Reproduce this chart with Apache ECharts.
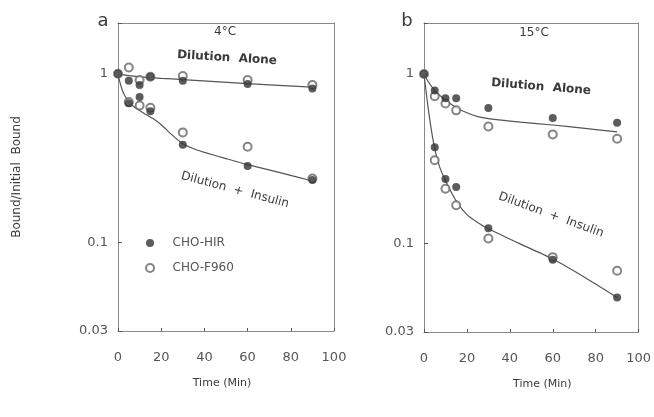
<!DOCTYPE html>
<html>
<head>
<meta charset="utf-8">
<script src="https://cdn.jsdelivr.net/npm/echarts@6/dist/echarts.min.js"></script>
<style>html,body{margin:0;padding:0;background:#fff}#c{width:654px;height:417px}</style>
</head>
<body>
<div id="c"></div>
<script>
// ---- data ----
const times = [0, 5, 10, 15, 30, 60, 90];
const xTicks = [0, 20, 40, 60, 80, 100];
const yTickLabels = ['0.03', '0.1', '1'];

// Panel a (4°C)
const aHirAlone    = [1.0, 0.91, 0.86, 0.96, 0.91, 0.87, 0.82];
const aHirInsulin  = [null, 0.67, 0.73, 0.60, 0.38, 0.285, 0.235];
const aF960Alone   = [1.0, 1.09, 0.92, 0.96, 0.97, 0.92, 0.86];
const aF960Insulin = [null, 0.68, 0.65, 0.63, 0.45, 0.37, 0.24];
const aFitAloneT   = [0, 5, 10, 20, 30, 60, 90];
const aFitAloneV   = [1.0, 0.975, 0.96, 0.94, 0.925, 0.875, 0.835];
const aFitInsT     = [0, 1, 2, 3, 5, 8, 12, 16, 20, 25, 30, 35, 40, 50, 60, 75, 90];
const aFitInsV     = [1.0, 0.88, 0.80, 0.75, 0.68, 0.63, 0.585, 0.545, 0.50, 0.435, 0.385, 0.36, 0.343, 0.315, 0.29, 0.26, 0.232];

// Panel b (15°C)
const bHirAlone    = [1.0, 0.80, 0.72, 0.72, 0.63, 0.55, 0.515];
const bHirInsulin  = [null, 0.37, 0.24, 0.215, 0.123, 0.080, 0.048];
const bF960Alone   = [1.0, 0.74, 0.67, 0.61, 0.49, 0.44, 0.415];
const bF960Insulin = [null, 0.31, 0.21, 0.168, 0.107, 0.083, 0.069];
const bFitAloneT   = [0, 2, 5, 10, 15, 20, 25, 30, 45, 60, 75, 90];
const bFitAloneV   = [1.0, 0.90, 0.80, 0.70, 0.635, 0.59, 0.56, 0.545, 0.52, 0.50, 0.478, 0.455];
const bFitInsT     = [0, 2, 4.5, 7, 10, 15, 20, 25, 30, 45, 60, 75, 90];
const bFitInsV     = [1.0, 0.62, 0.39, 0.29, 0.235, 0.178, 0.148, 0.133, 0.122, 0.099, 0.081, 0.063, 0.048];

// ---- helpers ----
const pairs = (t, v) => t.map((x, i) => [x, v[i]]).filter(p => p[1] != null);
const FONT = 'DejaVu Sans';
const frame = '#858b92';
const txt = '#3a3a3a';

function xAxisCfg(gi, pad) {
  return {
    type: 'value', gridIndex: gi, min: 0, max: 100, interval: 20, position: 'bottom',
    name: 'Time (Min)', nameLocation: 'middle', nameGap: 47,
    nameTextStyle: { fontFamily: FONT, fontSize: 11, color: txt, padding: pad },
    axisLine: { show: true, onZero: false, lineStyle: { color: frame } },
    axisTick: { show: true, inside: true, length: 3, lineStyle: { color: '#555' } },
    axisLabel: { fontFamily: FONT, fontSize: 13, color: '#555', margin: 20,
      formatter: v => xTicks.includes(v) ? String(v) : '' },
    splitLine: { show: false }
  };
}
function frameX(gi) {
  return { type: 'value', gridIndex: gi, min: 0, max: 100, position: 'top',
    axisLine: { show: true, onZero: false, lineStyle: { color: frame } },
    axisTick: { show: false }, axisLabel: { show: false }, splitLine: { show: false } };
}
function frameY(gi) {
  return { type: 'value', gridIndex: gi, min: 0, max: 1, position: 'right',
    axisLine: { show: true, onZero: false, lineStyle: { color: frame } },
    axisTick: { show: false }, axisLabel: { show: false }, splitLine: { show: false } };
}
function yAxisCfg(gi, withName) {
  return {
    type: 'log', logBase: 10, gridIndex: gi, min: 0.03, max: 2, position: 'left',
    name: withName ? 'Bound/Initial  Bound' : '', nameLocation: 'middle', nameGap: 95, nameRotate: 90,
    nameTextStyle: { fontFamily: FONT, fontSize: 12, color: txt },
    axisLine: { show: true, onZero: false, lineStyle: { color: frame } },
    axisTick: { show: true, inside: true, length: 4, lineStyle: { color: '#555' } },
    axisLabel: { fontFamily: FONT, fontSize: 13, color: '#555', margin: 10,
      formatter: v => { const s = String(+(+v).toPrecision(2)); return yTickLabels.includes(s) ? s : ''; } },
    splitLine: { show: false }
  };
}
function fit(name, xi, t, v) {
  return { type: 'line', name: name, xAxisIndex: xi, yAxisIndex: xi, data: pairs(t, v),
    showSymbol: false, smooth: 0.2, silent: true,
    lineStyle: { color: '#555', width: 1.2 }, z: 1 };
}
function filled(xi, v) {
  return { type: 'scatter', name: 'CHO-HIR', xAxisIndex: xi, yAxisIndex: xi, data: pairs(times, v),
    symbol: 'circle', symbolSize: 8, itemStyle: { color: '#333' }, z: 4 };
}
function open(xi, v) {
  return { type: 'scatter', name: 'CHO-F960', xAxisIndex: xi, yAxisIndex: xi, data: pairs(times, v),
    symbol: 'emptyCircle', symbolSize: 8, itemStyle: { color: '#666', borderWidth: 1 }, z: 3 };
}
function label(text, x, y, opt) {
  opt = opt || {};
  return { type: 'text', x: x, y: y, rotation: opt.rot || 0, z: 10,
    style: { text: text, fill: txt, textAlign: 'center', textVerticalAlign: 'middle', verticalAlign: 'middle',
      font: (opt.weight || 'normal') + ' ' + (opt.size || 12) + 'px "' + FONT + '"' } };
}

const chart = echarts.init(document.getElementById('c'), null, { renderer: 'canvas' });
chart.setOption({
  animation: false,
  backgroundColor: '#fff',
  grid: [
    { left: 118, top: 23, width: 216, height: 308 },
    { left: 424, top: 23, width: 217, height: 309 }
  ],
  xAxis: [xAxisCfg(0, [0, 8, 0, 0]), xAxisCfg(1, [0, 0, 0, 22]), frameX(0), frameX(1)],
  yAxis: [yAxisCfg(0, true), yAxisCfg(1, false), frameY(0), frameY(1)],
  legend: {
    orient: 'vertical', left: 140, top: 232, itemWidth: 35, itemHeight: 8, itemGap: 13,
    textStyle: { fontFamily: FONT, fontSize: 12, color: '#555' },
    data: ['CHO-HIR', 'CHO-F960']
  },
  graphic: [
    label('a', 103, 21, { size: 18 }),
    label('b', 407, 21, { size: 18 }),
    label('4°C', 225, 32, { size: 12 }),
    label('15°C', 534, 33, { size: 12 }),
    label('Dilution  Alone', 227, 58, { rot: -0.06, weight: 'bold', size: 12 }),
    label('Dilution  +  Insulin', 235, 190, { rot: -0.26, size: 12 }),
    label('Dilution  Alone', 541, 87, { rot: -0.08, weight: 'bold', size: 12 }),
    label('Dilution  +  Insulin', 551, 215, { rot: -0.35, size: 12 })
  ],
  series: [
    fit('fitAloneA', 0, aFitAloneT, aFitAloneV),
    fit('fitInsA', 0, aFitInsT, aFitInsV),
    open(0, aF960Alone), open(0, aF960Insulin),
    filled(0, aHirAlone), filled(0, aHirInsulin),
    fit('fitAloneB', 1, bFitAloneT, bFitAloneV),
    fit('fitInsB', 1, bFitInsT, bFitInsV),
    open(1, bF960Alone), open(1, bF960Insulin),
    filled(1, bHirAlone), filled(1, bHirInsulin)
  ]
});
</script>
</body>
</html>
